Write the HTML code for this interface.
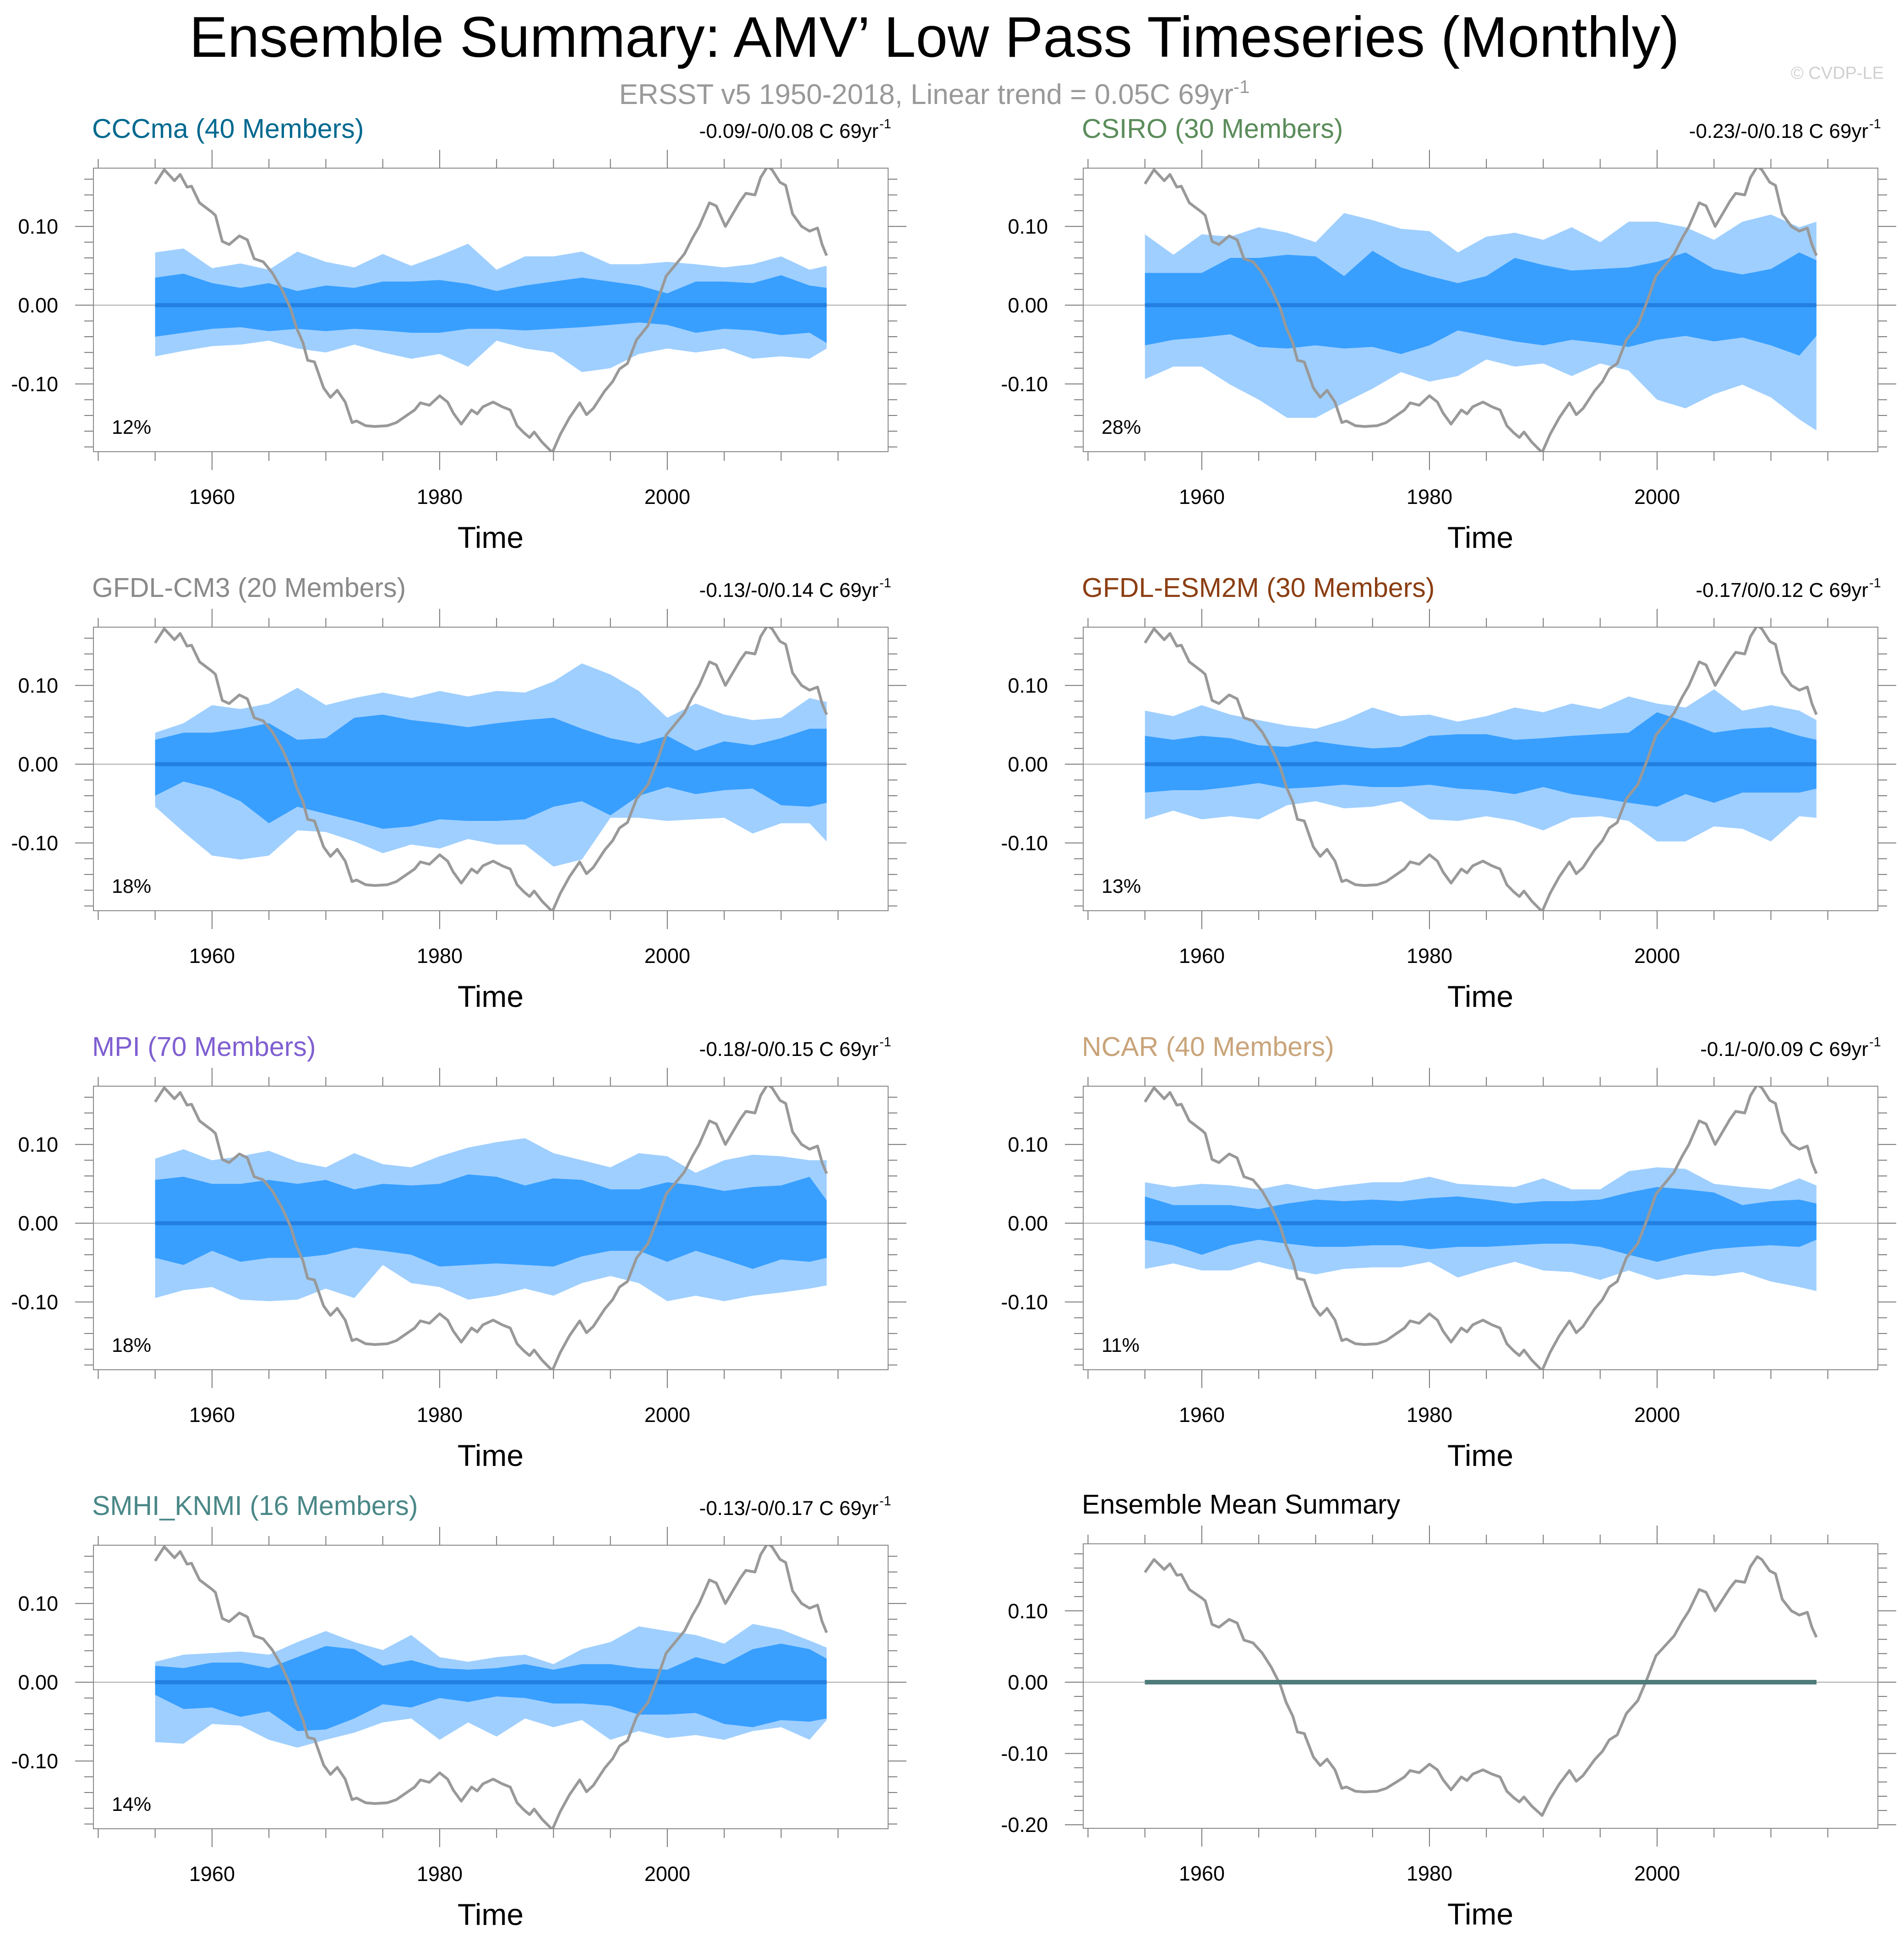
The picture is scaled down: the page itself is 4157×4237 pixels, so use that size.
<!DOCTYPE html>
<html><head><meta charset="utf-8"><title>Ensemble Summary AMV Low Pass</title>
<style>html,body{margin:0;padding:0;background:#fff}svg{display:block}text{font-family:"Liberation Sans",Arial,sans-serif}</style>
</head><body>
<svg id="chart" xmlns="http://www.w3.org/2000/svg" width="4157" height="4237" viewBox="0 0 4157 4237">
<rect x="0" y="0" width="4157" height="4237" fill="#fff"/>
<text x="2040" y="124" font-size="125" text-anchor="middle" fill="#000">Ensemble Summary: AMV’ Low Pass Timeseries (Monthly)</text>
<text x="2040" y="227" font-size="62" text-anchor="middle" fill="#999">ERSST v5 1950-2018, Linear trend = 0.05C 69yr<tspan dy="-24" font-size="40">-1</tspan></text>
<text x="4113" y="172" font-size="38" text-anchor="end" fill="#d0d0d0">© CVDP-LE</text>
<g id="panels"></g>
</svg>
<script>
// Observed AMV (gray line)
const obsYears = [1955,1955.8,1956.7,1957.2,1957.8,1958.2,1958.9,1960,1960.3,1960.9,1961.5,1962.4,1963.1,1963.7,1964.5,1965.3,1966.1,1966.9,1967.4,1968,1968.4,1969,1969.8,1970.4,1971,1971.7,1972.3,1972.7,1973.5,1974.3,1975.4,1976.2,1977,1977.8,1978.3,1979.1,1980,1980.7,1981.2,1981.9,1982.8,1983.3,1983.8,1984.7,1985.5,1986.2,1986.8,1987.4,1987.9,1988.3,1989,1989.9,1990.6,1991.4,1992.3,1992.9,1993.5,1994.5,1995.2,1995.8,1996.5,1997.3,1998.3,1999.1,1999.9,2000.7,2001.5,2002.2,2002.8,2003.7,2004.3,2005.1,2006,2006.4,2006.9,2007.7,2008.2,2008.8,2009.2,2009.9,2010.4,2011,2011.8,2012.5,2013.2,2013.6,2014.0];
const obsValues = [0.154,0.172,0.158,0.166,0.150,0.151,0.130,0.118,0.114,0.081,0.077,0.088,0.083,0.059,0.055,0.041,0.021,-0.004,-0.028,-0.048,-0.070,-0.072,-0.105,-0.117,-0.108,-0.123,-0.149,-0.147,-0.153,-0.154,-0.153,-0.149,-0.141,-0.133,-0.124,-0.127,-0.115,-0.123,-0.137,-0.151,-0.133,-0.138,-0.129,-0.123,-0.129,-0.133,-0.153,-0.162,-0.168,-0.161,-0.174,-0.187,-0.164,-0.143,-0.124,-0.139,-0.131,-0.109,-0.097,-0.081,-0.074,-0.044,-0.026,0.004,0.037,0.051,0.065,0.085,0.100,0.130,0.126,0.100,0.122,0.132,0.142,0.140,0.162,0.176,0.172,0.156,0.152,0.116,0.100,0.094,0.098,0.077,0.063];
// Band sample years
const bandYears = [1955,1957.5,1960,1962.5,1965,1967.5,1970,1972.5,1975,1977.5,1980,1982.5,1985,1987.5,1990,1992.5,1995,1997.5,2000,2002.5,2005,2007.5,2010,2012.5,2014.0];
const modelNames = ["CCCma (40 Members)","CSIRO (30 Members)","GFDL-CM3 (20 Members)","GFDL-ESM2M (30 Members)","MPI (70 Members)","NCAR (40 Members)","SMHI_KNMI (16 Members)"];
const trendLabels = ["-0.09/-0/0.08 C 69yr","-0.23/-0/0.18 C 69yr","-0.13/-0/0.14 C 69yr","-0.17/0/0.12 C 69yr","-0.18/-0/0.15 C 69yr","-0.1/-0/0.09 C 69yr","-0.13/-0/0.17 C 69yr"];
const pctLabels = ["12%","28%","18%","13%","18%","11%","14%"];
const ensMeanValues = [0,0,0,0,0,0,0];
// outer (light) upper bounds
const outerUp = [
[.067,.072,.047,.053,.045,.068,.055,.048,.065,.050,.063,.078,.045,.062,.062,.068,.052,.052,.055,.052,.048,.052,.062,.045,.050],
[.090,.064,.090,.087,.099,.092,.080,.117,.108,.097,.094,.067,.087,.092,.083,.099,.080,.106,.106,.099,.083,.106,.115,.099,.106],
[.040,.052,.075,.070,.077,.097,.075,.084,.091,.084,.093,.086,.093,.091,.105,.128,.114,.093,.059,.077,.063,.056,.059,.084,.079],
[.068,.061,.075,.063,.056,.049,.045,.056,.072,.061,.063,.054,.061,.072,.066,.077,.070,.086,.077,.072,.095,.068,.075,.068,.056],
[.082,.094,.080,.085,.092,.078,.071,.089,.075,.071,.085,.096,.103,.108,.089,.080,.071,.089,.085,.064,.080,.087,.085,.080,.080],
[.052,.046,.050,.048,.043,.050,.043,.048,.052,.052,.059,.050,.048,.046,.057,.043,.043,.066,.071,.069,.050,.046,.043,.057,.048],
[.026,.035,.037,.039,.035,.051,.065,.051,.041,.060,.032,.026,.032,.035,.023,.042,.051,.071,.065,.060,.049,.074,.067,.053,.044]];
const innerUp = [
[.035,.040,.028,.022,.028,.018,.025,.022,.030,.030,.032,.027,.018,.025,.030,.035,.030,.025,.015,.030,.030,.028,.038,.025,.022],
[.041,.041,.041,.060,.060,.064,.062,.037,.069,.048,.037,.028,.037,.060,.051,.044,.046,.048,.055,.067,.046,.039,.046,.067,.057],
[.031,.040,.040,.045,.052,.031,.033,.059,.063,.056,.052,.047,.052,.056,.059,.045,.033,.026,.036,.017,.029,.024,.033,.045,.045],
[.036,.031,.036,.033,.024,.022,.029,.024,.020,.022,.036,.038,.038,.031,.033,.036,.038,.040,.066,.054,.040,.045,.047,.036,.031],
[.055,.059,.050,.050,.055,.050,.055,.043,.050,.048,.050,.062,.059,.048,.057,.055,.043,.043,.052,.048,.041,.046,.048,.059,.029],
[.034,.023,.023,.023,.018,.025,.030,.028,.030,.028,.032,.034,.030,.025,.028,.028,.030,.039,.046,.043,.039,.023,.028,.030,.025],
[.021,.018,.025,.025,.018,.032,.046,.042,.021,.028,.018,.016,.018,.023,.016,.023,.023,.018,.016,.032,.023,.042,.049,.042,.030]];
const innerLow = [
[-.040,-.035,-.030,-.028,-.033,-.030,-.033,-.030,-.032,-.035,-.035,-.030,-.030,-.032,-.030,-.028,-.025,-.022,-.025,-.035,-.030,-.032,-.038,-.035,-.048],
[-.051,-.044,-.041,-.037,-.053,-.055,-.051,-.055,-.053,-.062,-.051,-.032,-.039,-.046,-.051,-.044,-.048,-.053,-.044,-.039,-.046,-.041,-.051,-.064,-.039],
[-.040,-.022,-.031,-.047,-.075,-.054,-.063,-.072,-.082,-.079,-.070,-.072,-.072,-.070,-.054,-.047,-.065,-.040,-.029,-.038,-.033,-.031,-.052,-.054,-.049],
[-.036,-.033,-.033,-.029,-.024,-.031,-.029,-.026,-.029,-.029,-.026,-.031,-.033,-.038,-.029,-.038,-.043,-.049,-.054,-.038,-.049,-.036,-.036,-.036,-.031],
[-.044,-.053,-.035,-.049,-.044,-.044,-.040,-.031,-.035,-.040,-.055,-.053,-.051,-.053,-.055,-.042,-.035,-.035,-.049,-.035,-.046,-.058,-.046,-.049,-.044],
[-.021,-.028,-.040,-.028,-.021,-.026,-.030,-.030,-.028,-.028,-.033,-.030,-.030,-.028,-.026,-.026,-.030,-.040,-.049,-.040,-.033,-.030,-.028,-.030,-.021],
[-.016,-.034,-.032,-.044,-.037,-.062,-.060,-.046,-.028,-.032,-.020,-.025,-.018,-.020,-.027,-.027,-.030,-.041,-.041,-.039,-.053,-.057,-.048,-.050,-.046]];
const outerLow = [
[-.065,-.058,-.052,-.050,-.045,-.055,-.060,-.050,-.060,-.068,-.062,-.078,-.045,-.055,-.060,-.085,-.080,-.062,-.055,-.060,-.055,-.068,-.065,-.068,-.055],
[-.094,-.078,-.078,-.101,-.120,-.143,-.143,-.124,-.106,-.085,-.097,-.090,-.069,-.078,-.074,-.090,-.074,-.083,-.120,-.131,-.113,-.101,-.117,-.145,-.159],
[-.054,-.086,-.116,-.121,-.116,-.084,-.086,-.098,-.113,-.102,-.107,-.095,-.102,-.102,-.130,-.121,-.068,-.068,-.072,-.070,-.068,-.088,-.075,-.075,-.098],
[-.070,-.059,-.070,-.066,-.070,-.052,-.047,-.056,-.054,-.047,-.070,-.072,-.066,-.072,-.084,-.068,-.066,-.072,-.098,-.098,-.079,-.082,-.098,-.066,-.068],
[-.095,-.085,-.081,-.097,-.099,-.097,-.083,-.095,-.053,-.076,-.081,-.097,-.092,-.083,-.092,-.076,-.067,-.076,-.099,-.092,-.099,-.092,-.088,-.083,-.079],
[-.058,-.051,-.060,-.060,-.049,-.058,-.065,-.058,-.056,-.056,-.049,-.069,-.058,-.049,-.060,-.062,-.072,-.060,-.072,-.065,-.067,-.062,-.074,-.081,-.086],
[-.076,-.078,-.053,-.055,-.073,-.083,-.073,-.064,-.051,-.046,-.073,-.051,-.069,-.046,-.057,-.048,-.073,-.062,-.071,-.067,-.073,-.062,-.057,-.073,-.048]];
const titleColors = ["#00698f","#5b8c5b","#8a8a8a","#8b3e12","#7f5fd0","#c9a47a","#4a8787"];
const yTicksMain = [-0.10,0.00,0.10];
const yTicksMean = [-0.20,-0.10,0.00,0.10];
const xTickLabels = [1960,1980,2000];

const NS = "http://www.w3.org/2000/svg";
const root = document.getElementById("panels");
function mk(tag, attrs, parent){ const e=document.createElementNS(NS,tag); for(const k in attrs) e.setAttribute(k,attrs[k]); (parent||root).appendChild(e); return e; }

const XMIN=1949.58, XMAX=2019.4, BW=1735;

function drawPanel(idx, L, T, ymin, ymax, yticks, isMean){
  const H = isMean ? 621 : 619;
  const g = mk("g",{});
  
  
  const xs = v => L + (v - XMIN)/(XMAX - XMIN)*BW;
  const ys = v => T + (ymax - v)/(ymax - ymin)*H;
  const clipId = "clip"+idx;
  const cp = mk("clipPath",{id:clipId},g); mk("rect",{x:L,y:T,width:BW,height:H},cp);
  for(let yr=1950; yr<=2015; yr+=5){
    const major = (yr%20===0 && yr>=1960 && yr<=2000);
    const len = major?40:20, x=xs(yr);
    const t1 = mk("line",{x1:x,x2:x,y1:T-len,y2:T,stroke:"#777","stroke-width":2},g);
    
    
    const t2 = mk("line",{x1:x,x2:x,y1:T+H,y2:T+H+len,stroke:"#777","stroke-width":2},g);
    
    
  }
  const start = Math.ceil(ymin/0.02 - 1e-6), end = Math.floor(ymax/0.02 + 1e-6);
  for(let k=start;k<=end;k++){
    const v=k*0.02, major = (k%5===0), len = major?40:20, y=ys(v);
    const a = mk("line",{x1:L-len,x2:L,y1:y,y2:y,stroke:"#777","stroke-width":2},g);
    
    
    const b = mk("line",{x1:L+BW,x2:L+BW+len,y1:y,y2:y,stroke:"#777","stroke-width":2},g);
    
    
  }
  yticks.forEach(v=>{
    const t = mk("text",{x:L-77,y:ys(v)+16,"font-size":45,"text-anchor":"end",fill:"#000"},g);
    t.textContent = v.toFixed(2);
    
    
  });
  xTickLabels.forEach(v=>{
    const t = mk("text",{x:xs(v),y:T+H+114,"font-size":45,"text-anchor":"middle",fill:"#000"},g);
    t.textContent = v;
    
    
  });
  const xt = mk("text",{x:L+867,y:T+H+210,"font-size":66,"text-anchor":"middle",fill:"#000"},g);
  xt.textContent="Time";
  
  
  const inner = mk("g",{"clip-path":"url(#"+clipId+")"},g);
  const zl = mk("line",{x1:L,x2:L+BW,y1:ys(0),y2:ys(0),stroke:"#aaa","stroke-width":2},inner);
  
  
  if(!isMean){
    const mkBand=(up,lo,color,name)=>{
      let pts=[];
      bandYears.forEach((yr,i)=>pts.push(xs(yr).toFixed(1)+","+ys(up[i]).toFixed(1)));
      for(let i=bandYears.length-1;i>=0;i--) pts.push(xs(bandYears[i]).toFixed(1)+","+ys(lo[i]).toFixed(1));
      const p = mk("polygon",{points:pts.join(" "),fill:color},inner);
      
      
    };
    mkBand(outerUp[idx],outerLow[idx],"#9fcfff","spread-band-outer");
    mkBand(innerUp[idx],innerLow[idx],"#389fff","spread-band-inner");
    const ml = mk("line",{x1:xs(bandYears[0]),x2:xs(bandYears[bandYears.length-1]),y1:ys(ensMeanValues[idx]),y2:ys(ensMeanValues[idx]),stroke:"#2380e0","stroke-width":9},inner);
    
    
  }
  const obs = mk("polyline",{points:obsYears.map((yr,i)=>xs(yr).toFixed(1)+","+ys(obsValues[i]).toFixed(1)).join(" "),fill:"none",stroke:"#999","stroke-width":6,"stroke-linejoin":"round"},inner);
  
  
  if(isMean){
    ensMeanValues.forEach((v,i)=>{
      const ml = mk("line",{x1:xs(bandYears[0]),x2:xs(bandYears[bandYears.length-1]),y1:ys(v),y2:ys(v),stroke:"#4f7b7b","stroke-width":10},inner);
      
      
    });
  }
  const box = mk("rect",{x:L,y:T,width:BW,height:H,fill:"none",stroke:"#888","stroke-width":2},g);
  
  
  const tt = mk("text",{x:L-3,y:T-66,"font-size":59,fill:isMean?"#000":titleColors[idx]},g);
  tt.textContent = isMean ? "Ensemble Mean Summary" : modelNames[idx];
  
  
  if(!isMean){
    const tr = mk("text",{x:L+1714,y:T-66,"font-size":44,"text-anchor":"end",fill:"#000"},g);
    tr.textContent = trendLabels[idx];
    
    
    const sup = mk("text",{x:L+1716,y:T-87,"font-size":29,fill:"#000"},g);
    sup.textContent="-1";
    
    
    const pc = mk("text",{x:L+40,y:T+580,"font-size":43,fill:"#000"},g);
    pc.textContent = pctLabels[idx];
    
    
  }
}
const lefts=[204,2365];
for(let i=0;i<7;i++){
  drawPanel(i, lefts[i%2], 367+1002*Math.floor(i/2), -0.186, 0.174, yTicksMain, false);
}
drawPanel(7, 2365, 3370, -0.205, 0.194, yTicksMean, true);
</script>
</body></html>
